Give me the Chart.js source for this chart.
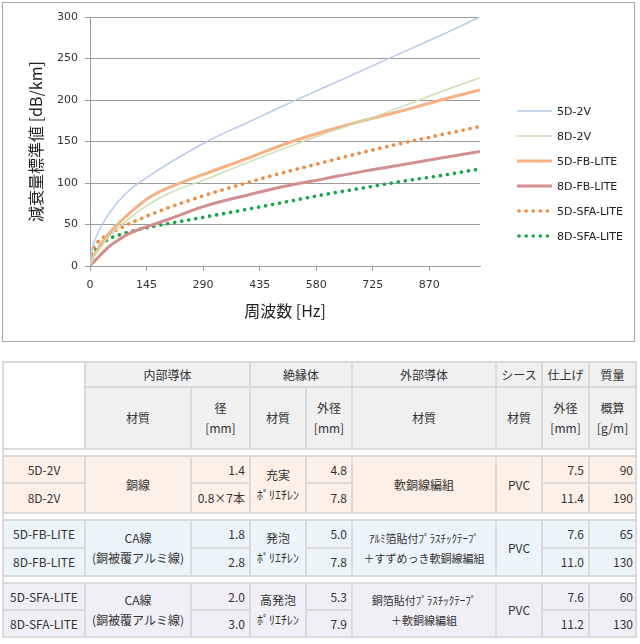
<!DOCTYPE html>
<html>
<head>
<meta charset="utf-8">
<script src="https://cdn.jsdelivr.net/npm/chart.js@4.4.1/dist/chart.umd.min.js"></script>
<style>
html,body{margin:0;padding:0;background:#fff;}
body{width:640px;height:644px;position:relative;overflow:hidden;}
#chartBox{position:absolute;left:2px;top:2px;width:633px;height:340px;border:1px solid #a6a6a6;box-sizing:border-box;}
#c{position:absolute;left:0;top:0;}
#legend{position:absolute;left:0;top:0;width:0;height:0;font-family:"DejaVu Sans",sans-serif;font-size:11px;color:#222;}
.li{position:absolute;height:14px;display:flex;align-items:center;white-space:nowrap;}
.li svg{display:block;margin-right:4px;}
#spec{position:absolute;left:2px;top:361px;border-collapse:collapse;table-layout:fixed;width:635px;
  font-family:"Noto Sans CJK JP",sans-serif;font-size:12px;color:#333;}
#spec td{border:2px solid #dadada;padding:0 4px;text-align:center;line-height:20px;overflow:hidden;white-space:nowrap;}
#spec td.h{background:#f0f0f0;}
#spec td.blank{background:#fff;}
#spec tr.gap td{background:#fff;padding:0;line-height:0;font-size:0;}
#spec td.n{text-align:right;}
#spec td.last{padding-right:2px;}
#spec .g1 td{background:#fdf1e7;}
#spec .g2 td{background:#ebf5f9;}
#spec .g3 td{background:#f1eff6;}
#spec td.sm{font-size:11px;}
</style>
</head>
<body>
<div id="chartBox">
  <canvas id="c" width="631" height="338"></canvas>
  <div id="legend"></div>
</div>

<table id="spec">
<colgroup>
<col style="width:82px"><col style="width:106px"><col style="width:59px"><col style="width:56px"><col style="width:46px">
<col style="width:144px"><col style="width:46px"><col style="width:47px"><col style="width:47px">
</colgroup>
<tr style="height:25px">
  <td rowspan="2" class="blank"></td>
  <td colspan="2" class="h">内部導体</td>
  <td colspan="2" class="h">絶縁体</td>
  <td class="h">外部導体</td>
  <td class="h">シース</td>
  <td class="h">仕上げ</td>
  <td class="h">質量</td>
</tr>
<tr style="height:62px">
  <td class="h">材質</td>
  <td class="h">径<br>[mm]</td>
  <td class="h">材質</td>
  <td class="h">外径<br>[mm]</td>
  <td class="h">材質</td>
  <td class="h">材質</td>
  <td class="h">外径<br>[mm]</td>
  <td class="h">概算<br>[g/m]</td>
</tr>
<tr class="gap" style="height:7px"><td colspan="9"></td></tr>
<tr class="g1" style="height:27px">
  <td>5D-2V</td>
  <td rowspan="2">銅線</td>
  <td class="n">1.4</td>
  <td rowspan="2">充実<br>ﾎﾟﾘｴﾁﾚﾝ</td>
  <td class="n">4.8</td>
  <td rowspan="2">軟銅線編組</td>
  <td rowspan="2">PVC</td>
  <td class="n">7.5</td>
  <td class="n last">90</td>
</tr>
<tr class="g1" style="height:30px">
  <td>8D-2V</td>
  <td class="n">0.8×7本</td>
  <td class="n">7.8</td>
  <td class="n">11.4</td>
  <td class="n last">190</td>
</tr>
<tr class="gap" style="height:7px"><td colspan="9"></td></tr>
<tr class="g2" style="height:28px">
  <td>5D-FB-LITE</td>
  <td rowspan="2">CA線<br>(銅被覆アルミ線)</td>
  <td class="n">1.8</td>
  <td rowspan="2">発泡<br>ﾎﾟﾘｴﾁﾚﾝ</td>
  <td class="n">5.0</td>
  <td rowspan="2" class="sm">ｱﾙﾐ箔貼付ﾌﾟﾗｽﾁｯｸﾃｰﾌﾟ<br>＋すずめっき軟銅線編組</td>
  <td rowspan="2">PVC</td>
  <td class="n">7.6</td>
  <td class="n last">65</td>
</tr>
<tr class="g2" style="height:28px">
  <td>8D-FB-LITE</td>
  <td class="n">2.8</td>
  <td class="n">7.8</td>
  <td class="n">11.0</td>
  <td class="n last">130</td>
</tr>
<tr class="gap" style="height:7px"><td colspan="9"></td></tr>
<tr class="g3" style="height:27px">
  <td>5D-SFA-LITE</td>
  <td rowspan="2">CA線<br>(銅被覆アルミ線)</td>
  <td class="n">2.0</td>
  <td rowspan="2">高発泡<br>ﾎﾟﾘｴﾁﾚﾝ</td>
  <td class="n">5.3</td>
  <td rowspan="2" class="sm">銅箔貼付ﾌﾟﾗｽﾁｯｸﾃｰﾌﾟ<br>＋軟銅線編組</td>
  <td rowspan="2">PVC</td>
  <td class="n">7.6</td>
  <td class="n last">60</td>
</tr>
<tr class="g3" style="height:27px">
  <td>8D-SFA-LITE</td>
  <td class="n">3.0</td>
  <td class="n">7.9</td>
  <td class="n">11.2</td>
  <td class="n last">130</td>
</tr>
</table>

<script>
// ---- data ----
const freqMHz   = [1, 5, 10, 20, 50, 75, 100, 125, 150, 200, 300, 400, 500, 600, 700, 800, 900, 1000];
const seriesNames = ['5D-2V', '8D-2V', '5D-FB-LITE', '8D-FB-LITE', '5D-SFA-LITE', '8D-SFA-LITE'];
const att5D2V    = [6, 20, 28, 40, 64, 79, 91, 100, 108, 123, 150, 172, 194, 215, 236, 257, 278, 300];
const att8D2V    = [2, 6, 11, 18, 36, 47, 57, 66, 74, 87, 105, 124, 142, 159, 175, 192, 210, 227];
const att5DFB    = [2, 7, 12, 20, 40, 52, 63, 73, 82, 94, 112, 129, 147, 162, 175, 187, 200, 212];
const att8DFB    = [1, 3, 5, 10, 24, 32, 39, 44, 48, 56, 73, 85, 96, 105, 114, 122, 130, 138];
const att5DSFA   = [6, 18, 22, 29, 39, 45, 51, 56, 61, 70, 86, 100, 113, 125, 137, 148, 158, 168];
const att8DSFA   = [4, 13, 17, 22, 33, 37.5, 41, 44, 46.5, 51, 59.5, 68, 77, 86, 94, 102, 109, 117];
const xTickValues = [0, 145, 290, 435, 580, 725, 870];
const yTickValues = [0, 50, 100, 150, 200, 250, 300];

// ---- styles ----
const seriesStyles = [
  {color:'#b5cae8', width:1.5, dash:[], cap:'butt'},
  {color:'#c9deb2', width:1.5, dash:[], cap:'butt'},
  {color:'#f5b183', width:3,   dash:[], cap:'butt'},
  {color:'#d38f8f', width:3,   dash:[], cap:'butt'},
  {color:'#ef8c42', width:3.6, dash:[0.1, 7], cap:'round'},
  {color:'#1ea54b', width:3.6, dash:[0.1, 7], cap:'round'}
];
const seriesValues = [att5D2V, att8D2V, att5DFB, att8DFB, att5DSFA, att8DSFA];

const datasets = seriesNames.map((name, k) => ({
  label: name,
  data: freqMHz.map((f, i) => ({x: f, y: seriesValues[k][i]})),
  borderColor: seriesStyles[k].color,
  backgroundColor: seriesStyles[k].color,
  borderWidth: seriesStyles[k].width,
  borderDash: seriesStyles[k].dash,
  borderCapStyle: seriesStyles[k].cap,
  pointRadius: 0,
  fill: false,
  cubicInterpolationMode: 'monotone'
}));

const tickFont = {family: 'DejaVu Sans', size: 11};
const titleFont = {family: 'Noto Sans CJK JP', size: 16};

new Chart(document.getElementById('c'), {
  type: 'line',
  data: {datasets},
  options: {
    responsive: false,
    animation: false,
    layout: {padding: {top: 14, right: 154, bottom: 0, left: 0}},
    plugins: {legend: {display: false}, tooltip: {enabled: false}},
    scales: {
      x: {
        type: 'linear', min: 0, max: 1000,
        afterBuildTicks: s => { s.ticks = xTickValues.map(v => ({value: v})); },
        afterFit: s => { s.height = 75; },
        ticks: {font: tickFont, color: '#333', padding: 8, maxRotation: 0, autoSkip: false},
        grid: {drawOnChartArea: false, drawTicks: true, tickLength: 5, color: '#9a9a9a'},
        border: {display: true, color: '#9a9a9a'},
        title: {display: true, text: '周波数 [Hz]', font: titleFont, color: '#222', padding: {top: 0, bottom: 20}}
      },
      y: {
        type: 'linear', min: 0, max: 300,
        afterBuildTicks: s => { s.ticks = yTickValues.map(v => ({value: v})); },
        afterFit: s => { s.width = 87; },
        ticks: {font: tickFont, color: '#333', padding: 7},
        grid: {drawTicks: true, tickLength: 5, color: '#9a9a9a'},
        border: {display: true, color: '#9a9a9a'},
        title: {display: true, text: '減衰量標準値 [dB/km]', font: titleFont, color: '#222', padding: {top: 23, bottom: 0}}
      }
    }
  }
});

// ---- legend (HTML, generated from the series) ----
const legend = document.getElementById('legend');
seriesNames.forEach((name, k) => {
  const st = seriesStyles[k];
  const item = document.createElement('div');
  item.className = 'li';
  item.style.left = '514px';
  item.style.top = (108 + 25 * k - 7) + 'px';
  const dashAttr = st.dash.length ? ` stroke-dasharray="${st.dash.join(' ')}"` : '';
  item.innerHTML = `<svg width="36" height="10"><line x1="${st.cap === 'round' ? 2 : 0}" y1="5" x2="35" y2="5" stroke="${st.color}" stroke-width="${st.width}" stroke-linecap="${st.cap}"${dashAttr}/></svg><span>${name}</span>`;
  legend.appendChild(item);
});
</script>
</body>
</html>
